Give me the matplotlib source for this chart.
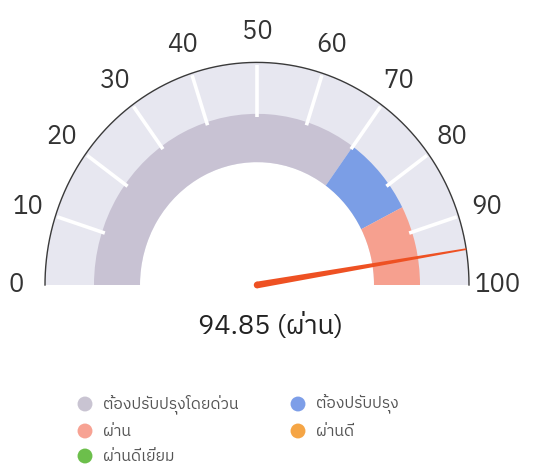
import numpy as np
import matplotlib
matplotlib.use("Agg")
import matplotlib.pyplot as plt
from matplotlib.patches import Wedge, Circle
from matplotlib import font_manager as fm
from matplotlib.ft2font import FT2Font

# ---------------- data ----------------
band_edges = [0, 70, 85, 100]
band_colors = ["#c8c2d3", "#7b9ee6", "#f6a08f"]
tick_values = [0, 10, 20, 30, 40, 50, 60, 70, 80, 90, 100]
value = 94.85
status = "ผ่าน"
legend_labels = ["ต้องปรับปรุงโดยด่วน", "ต้องปรับปรุง", "ผ่าน", "ผ่านดี", "ผ่านดีเยี่ยม"]
legend_colors = ["#c9c4d2", "#7d9ee8", "#f7a293", "#f5a545", "#6cbf4b"]


def find_thai_font():
    prefs = []
    for f in fm.fontManager.ttflist:
        try:
            cm = FT2Font(f.fname).get_charmap()
        except Exception:
            continue
        if 0x0E1C in cm and 0x0E48 in cm and 0x0E22 in cm:
            score = 0
            n = f.name.lower()
            if "sans" in n:
                score += 2
            if "looped" in n:
                score -= 1
            if "ui" in n:
                score -= 1
            if f.weight in (400, "normal", "regular"):
                score += 1
            prefs.append((score, f.name))
    prefs.sort(key=lambda t: -t[0])
    return prefs[0][1] if prefs else None


thai = find_thai_font()
families = ([thai] if thai else []) + ["DejaVu Sans"]
plt.rcParams["font.family"] = families

# ---------------- layout ----------------
W, H = 554, 466
cx, cy = 257, 285          # pixel centre
sy = 1.05                  # vertical stretch of the reference
R_OUT, R_BAND_OUT, R_BAND_IN, R_LABEL = 212, 163, 117, 241

fig = plt.figure(figsize=(W / 100, H / 100), dpi=100)
ax = fig.add_axes([0, 0, 1, 1])
ax.set_xlim(-cx, W - cx)
ax.set_ylim(-(H - cy) / sy, cy / sy)
ax.axis("off")


def ang(v):
    return 180.0 - 1.8 * v


# background track
ax.add_patch(Wedge((0, 0), R_OUT, 0, 180, width=R_OUT - R_BAND_IN,
                   facecolor="#e7e7f0", edgecolor="none", zorder=1))

# coloured bands
for i, col in enumerate(band_colors):
    ax.add_patch(Wedge((0, 0), R_BAND_OUT, ang(band_edges[i + 1]), ang(band_edges[i]),
                       width=R_BAND_OUT - R_BAND_IN, facecolor=col,
                       edgecolor="none", zorder=2))

# outer arc line
t = np.linspace(0, np.pi, 300)
ax.plot(R_OUT * np.cos(t), R_OUT * np.sin(t), color="#3a3a3a", lw=1.0, zorder=4)

# white tick marks and labels
for v in tick_values:
    a = np.deg2rad(ang(v))
    if 0 < v < 100:
        ax.plot([160 * np.cos(a), (R_OUT - 2) * np.cos(a)],
                [160 * np.sin(a), (R_OUT - 2) * np.sin(a)],
                color="white", lw=2.6, solid_capstyle="butt", zorder=3)
    ax.text(R_LABEL * np.cos(a), R_LABEL * np.sin(a), str(v),
            ha="center", va="center", fontsize=18.5, fontweight="normal",
            color="#333333", zorder=5)

# needle
a = np.deg2rad(ang(value))
ux, uy = np.cos(a), np.sin(a)
px, py = -uy, ux
base_w, tip_w = 3.2, 0.8
L = R_OUT
needle_x = [px * base_w, ux * L + px * tip_w, ux * L - px * tip_w, -px * base_w]
needle_y = [py * base_w, uy * L + py * tip_w, uy * L - py * tip_w, -py * base_w]
ax.fill(needle_x, needle_y, color="#ee5123", zorder=6, lw=0)
ax.add_patch(Circle((0, 0), base_w, facecolor="#ee5123", edgecolor="none", zorder=6))

# value text
ax.text(271 - cx, (cy - 326) / sy, f"{value:.2f} ({status})",
        ha="center", va="center", fontsize=19.5, fontweight="normal",
        color="#222222", zorder=7)

# legend
col_x = [85, 298]
row_y = [404, 431, 456]
for i, (lab, col) in enumerate(zip(legend_labels, legend_colors)):
    r, c = divmod(i, 2)
    mx, my = col_x[c] - cx, (cy - row_y[r]) / sy
    ax.scatter([mx], [my], s=115, color=col, edgecolors="none", zorder=7)
    ax.text(mx + 18, my, lab, ha="left", va="center", fontsize=11.3,
            color="#555555", zorder=7)

fig.savefig("out.png", dpi=100)
